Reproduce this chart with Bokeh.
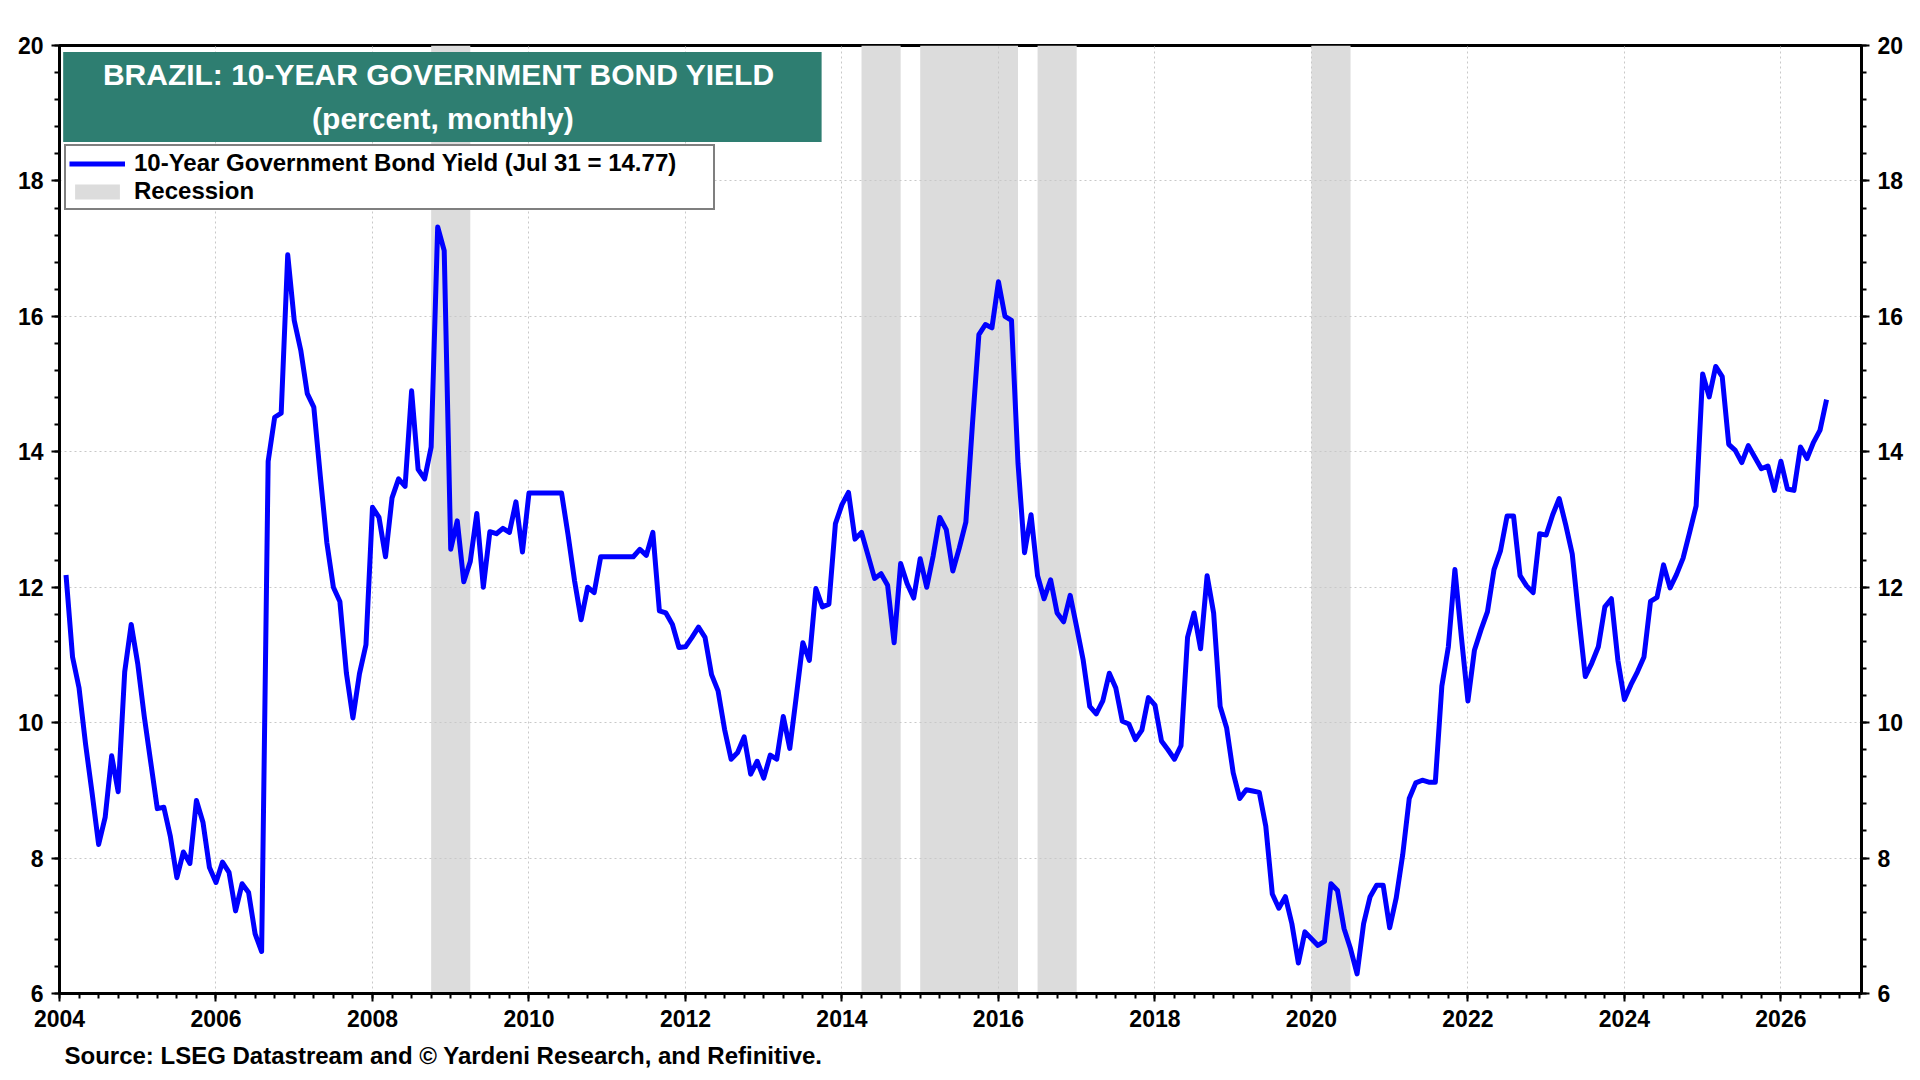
from bokeh.plotting import figure
from bokeh.models import (Range1d, LinearAxis, SingleIntervalTicker, BoxAnnotation,
                          Label, Legend, LegendItem, Title)
from bokeh.embed import file_html
from bokeh.resources import INLINE

# ---------------- data ----------------
start_year = 2004
start_month = 1  # January 2004, values at month end

yields = [
    # 2004
    12.18, 10.97, 10.51, 9.68, 8.96, 8.20, 8.60, 9.51, 8.98, 10.75, 11.45, 10.87,
    # 2005
    10.09, 9.41, 8.73, 8.75, 8.32, 7.71, 8.09, 7.92, 8.85, 8.53, 7.86, 7.64,
    # 2006
    7.94, 7.79, 7.22, 7.62, 7.49, 6.88, 6.62, 13.86, 14.51, 14.57, 16.91, 15.94,
    # 2007
    15.50, 14.86, 14.66, 13.64, 12.66, 12.00, 11.79, 10.73, 10.07, 10.72, 11.15, 13.18,
    # 2008
    13.03, 12.45, 13.32, 13.60, 13.49, 14.90, 13.74, 13.60, 14.07, 17.32, 16.97, 12.56,
    # 2009
    12.98, 12.08, 12.38, 13.09, 12.00, 12.82, 12.79, 12.87, 12.81, 13.26, 12.52, 13.39,
    # 2010
    13.39, 13.39, 13.39, 13.39, 13.39, 12.77, 12.09, 11.52, 12.00, 11.92, 12.45, 12.45,
    # 2011
    12.45, 12.45, 12.45, 12.45, 12.56, 12.47, 12.81, 11.65, 11.62, 11.45, 11.11, 11.12,
    # 2012
    11.26, 11.41, 11.26, 10.71, 10.47, 9.90, 9.46, 9.56, 9.79, 9.24, 9.43, 9.18,
    # 2013
    9.52, 9.46, 10.09, 9.62, 10.39, 11.18, 10.92, 11.98, 11.71, 11.75, 12.94, 13.22,
    # 2014
    13.40, 12.71, 12.81, 12.47, 12.13, 12.20, 12.03, 11.18, 12.35, 12.05, 11.84, 12.42,
    # 2015
    12.00, 12.47, 13.03, 12.85, 12.24, 12.58, 12.96, 14.39, 15.73, 15.88, 15.83, 16.51,
    # 2016
    16.00, 15.94, 13.83, 12.51, 13.07, 12.17, 11.83, 12.11, 11.62, 11.49, 11.88, 11.41,
    # 2017
    10.92, 10.24, 10.13, 10.32, 10.73, 10.51, 10.02, 9.98, 9.75, 9.89, 10.37, 10.26,
    # 2018
    9.73, 9.60, 9.46, 9.66, 11.26, 11.62, 11.09, 12.17, 11.62, 10.24, 9.92, 9.26,
    # 2019
    8.88, 9.01, 8.99, 8.97, 8.47, 7.47, 7.26, 7.43, 7.03, 6.45, 6.91, 6.81,
    # 2020
    6.71, 6.77, 7.62, 7.52, 6.96, 6.66, 6.29, 7.03, 7.43, 7.60, 7.60, 6.97,
    # 2021
    7.41, 8.05, 8.88, 9.11, 9.15, 9.12, 9.12, 10.54, 11.12, 12.26, 11.26, 10.32,
    # 2022
    11.07, 11.37, 11.64, 12.26, 12.54, 13.05, 13.05, 12.17, 12.02, 11.92, 12.79, 12.77,
    # 2023
    13.07, 13.31, 12.92, 12.49, 11.56, 10.68, 10.88, 11.12, 11.71, 11.83, 10.92, 10.34,
    # 2024
    10.56, 10.75, 10.97, 11.79, 11.85, 12.33, 11.99, 12.19, 12.43, 12.81, 13.20, 15.15,
    # 2025
    14.81, 15.26, 15.11, 14.11, 14.02, 13.84, 14.09, 13.92, 13.75, 13.79, 13.43, 13.86,
    # 2026
    13.45, 13.43, 14.07, 13.90, 14.14, 14.32, 14.77,
]

recession_start = [2008.75, 2014.25, 2015.00, 2016.50, 2020.00]
recession_end = [2009.25, 2014.75, 2016.25, 2017.00, 2020.50]

x_start, x_end = 2004.0, 2027.03
y_min, y_max = 6, 20

title_line1 = "BRAZIL:  10-YEAR GOVERNMENT BOND YIELD"
title_line2 = "(percent, monthly)"
legend_line = "10-Year Government Bond Yield (Jul 31 = 14.77)"
legend_rec = "Recession"
source_text = "Source: LSEG Datastream and \u00a9 Yardeni Research, and Refinitive."

# month-end decimal dates
dates = [start_year + (start_month - 1 + i + 1) / 12.0 for i in range(len(yields))]

FONT = "Liberation Sans"

p = figure(width=1912, height=1079, output_backend="svg", toolbar_location=None,
           x_range=Range1d(x_start, x_end), y_range=Range1d(y_min, y_max),
           min_border_left=59, min_border_right=51, min_border_top=45,
           min_border_bottom=86, background_fill_color="white",
           border_fill_color="white")

p.outline_line_color = "black"
p.outline_line_width = 3

# recession bands
rec_r = p.quad(left=recession_start, right=recession_end, bottom=y_min, top=y_max,
               fill_color="#DCDCDC", line_color=None, level="image")

# yield line
line_r = p.line(dates, yields, line_color="#0000FF", line_width=5,
                line_join="round")

# axes
right_axis = LinearAxis()
p.add_layout(right_axis, "right")

p.xaxis[0].ticker = SingleIntervalTicker(interval=2, num_minor_ticks=8)
for ax in p.yaxis:
    ax.ticker = SingleIntervalTicker(interval=2, num_minor_ticks=5)

for ax in list(p.xaxis) + list(p.yaxis):
    ax.axis_line_width = 3
    ax.axis_line_color = "black"
    ax.major_tick_line_width = 2
    ax.major_tick_line_color = "black"
    ax.major_tick_out = 8
    ax.major_tick_in = 0
    ax.minor_tick_line_width = 2
    ax.minor_tick_line_color = "black"
    ax.minor_tick_out = 5
    ax.minor_tick_in = 0
    ax.major_label_text_font = FONT
    ax.major_label_text_font_size = "23px"
    ax.major_label_text_font_style = "bold"
    ax.major_label_text_color = "black"
    ax.major_label_standoff = 8

# grids
for g in list(p.xgrid) + list(p.ygrid):
    g.ticker = SingleIntervalTicker(interval=2)
    g.grid_line_color = "#C8C8C8"
    g.grid_line_dash = "2 3"
    g.grid_line_width = 1

# title box
box = BoxAnnotation(left=2004.047, right=2013.74, bottom=18.576, top=19.905,
                    fill_color="#2E7E71", fill_alpha=1.0, line_color=None)
p.add_layout(box)
p.add_layout(Label(x=2008.9, y=19.575, text=title_line1, text_align="center",
                   text_baseline="middle", text_color="white", text_font=FONT,
                   text_font_size="30px", text_font_style="bold"))
p.add_layout(Label(x=2008.9, y=18.925, text=title_line2, text_align="center",
                   text_baseline="middle", text_color="white", text_font=FONT,
                   text_font_size="30px", text_font_style="bold"))

# legend
legend = Legend(items=[LegendItem(label=legend_line, renderers=[line_r]),
                       LegendItem(label=legend_rec, renderers=[rec_r])],
                location=(5, 783))
legend.label_text_font = FONT
legend.label_text_font_size = "24px"
legend.label_text_font_style = "bold"
legend.label_text_color = "black"
legend.label_height = 26
legend.label_width = 576
legend.glyph_height = 19
legend.glyph_width = 56
legend.label_standoff = 9
legend.spacing = 0
legend.padding = 3
legend.margin = 0
legend.border_line_color = "black"
legend.border_line_width = 2
legend.background_fill_color = "white"
legend.background_fill_alpha = 1.0
p.add_layout(legend)

# source note
src = Title(text=source_text, align="left", text_font=FONT, text_font_size="24px",
            text_font_style="bold", text_color="black", offset=5, standoff=20)
p.add_layout(src, "below")

open("out.html", "w").write(file_html(p, INLINE))
